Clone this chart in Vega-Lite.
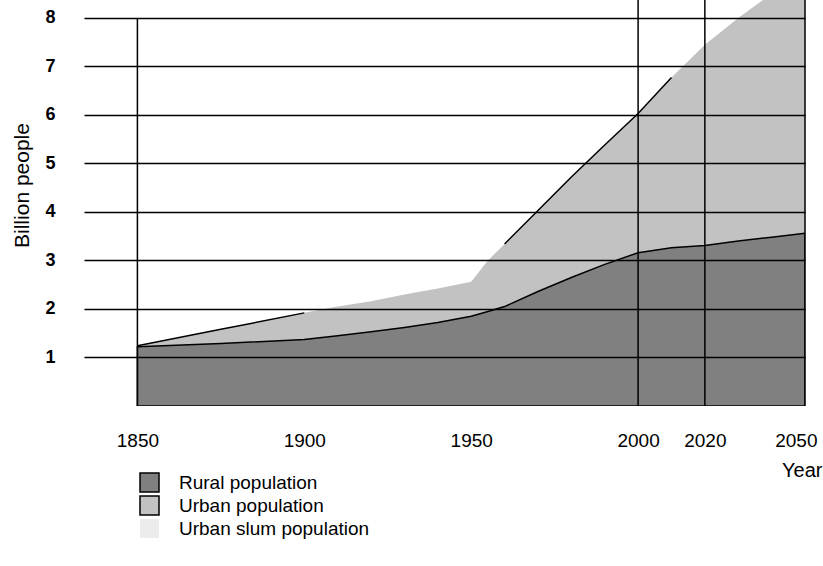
{
  "$schema": "https://vega.github.io/schema/vega-lite/v6.json",
  "autosize": {"type": "none"},
  "padding": {"left": 84, "top": 0, "right": 18, "bottom": 160},
  "width": 721,
  "height": 406,
  "background": "white",
  "config": {
    "view": {"stroke": null},
    "font": "Liberation Sans",
    "axis": {"labelColor": "black", "titleColor": "black", "titleFontWeight": "normal", "labelFont": "Liberation Sans", "titleFont": "Liberation Sans"}
  },
  "data": {
    "values": [
      {"year": 1850, "rural": 1.22, "total": 1.24, "edge": 1.24},
      {"year": 1875, "rural": 1.29, "total": 1.58, "edge": 1.58},
      {"year": 1900, "rural": 1.37, "total": 1.92, "edge": 1.92},
      {"year": 1910, "rural": 1.45, "total": 2.05, "edge": null},
      {"year": 1920, "rural": 1.53, "total": 2.16, "edge": null},
      {"year": 1930, "rural": 1.62, "total": 2.3, "edge": null},
      {"year": 1940, "rural": 1.72, "total": 2.42, "edge": null},
      {"year": 1950, "rural": 1.85, "total": 2.56, "edge": null},
      {"year": 1955, "rural": 1.95, "total": 3.0, "edge": null},
      {"year": 1960, "rural": 2.05, "total": 3.34, "edge": 3.34},
      {"year": 1970, "rural": 2.36, "total": 4.03, "edge": 4.03},
      {"year": 1980, "rural": 2.65, "total": 4.72, "edge": 4.72},
      {"year": 1990, "rural": 2.92, "total": 5.38, "edge": 5.38},
      {"year": 2000, "rural": 3.16, "total": 6.03, "edge": 6.03},
      {"year": 2010, "rural": 3.26, "total": 6.77, "edge": 6.77},
      {"year": 2020, "rural": 3.31, "total": 7.45, "edge": null},
      {"year": 2030, "rural": 3.4, "total": 8.0, "edge": null},
      {"year": 2040, "rural": 3.48, "total": 8.5, "edge": null},
      {"year": 2050, "rural": 3.56, "total": 9.0, "edge": null}
    ]
  },
  "layer": [
    {
      "mark": {"type": "area", "clip": true},
      "encoding": {
        "x": {
          "field": "year", "type": "quantitative",
          "scale": {"domain": [1834, 2050], "nice": false, "zero": false},
          "axis": {
            "values": [1850, 1900, 1950, 2000, 2020, 2050],
            "format": "d",
            "grid": false, "domain": false, "ticks": false,
            "labelFontSize": 19, "labelPadding": 25, "labelFlush": true, "labelFlushOffset": 12,
            "title": "Year", "titleFontSize": 20, "titleAlign": "right", "titleBaseline": "middle",
            "titleX": 738, "titleY": 64
          }
        },
        "y": {
          "field": "total", "type": "quantitative",
          "scale": {"domain": [0, 8.37], "nice": false},
          "axis": {
            "values": [1, 2, 3, 4, 5, 6, 7, 8],
            "grid": true, "gridColor": "black", "gridWidth": 1.5, "gridOpacity": 1,
            "domain": false, "ticks": false, "zindex": 1,
            "labelFontSize": 18, "labelFontWeight": "bold", "labelPadding": 29,
            "title": "Billion people", "titleFontSize": 21, "titleAngle": -90,
            "titleAlign": "center", "titleBaseline": "middle", "titleX": -62, "titleY": 185
          }
        },
        "y2": {"field": "rural"},
        "color": {
          "datum": "Urban population",
          "scale": {
            "domain": ["Rural population", "Urban population", "Urban slum population"],
            "range": ["#808080", "#c2c2c2", "#ececec"]
          },
          "legend": {
            "title": null, "orient": "none", "legendX": 55, "legendY": 472,
            "symbolType": "square", "symbolSize": 361, "symbolStrokeColor": "black", "symbolStrokeWidth": 1.5,
            "labelFont": "Liberation Sans", "labelFontSize": 19, "labelColor": "black", "labelOffset": 19, "labelLimit": 0,
            "rowPadding": -4,
            "encode": {"symbols": {"update": {"stroke": {"signal": "datum.value === 'Urban slum population' ? 'transparent' : 'black'"}, "strokeWidth": {"value": 1.5}}}}
          }
        }
      }
    },
    {
      "mark": {"type": "area", "stroke": "black", "strokeWidth": 1.5, "clip": true},
      "encoding": {
        "x": {"field": "year", "type": "quantitative"},
        "y": {"field": "rural", "type": "quantitative"},
        "color": {"datum": "Rural population"}
      }
    },
    {
      "mark": {"type": "line", "color": "black", "strokeWidth": 1.5, "invalid": "break-paths-show-domains", "clip": true},
      "encoding": {
        "x": {"field": "year", "type": "quantitative"},
        "y": {"field": "edge", "type": "quantitative"}
      }
    },
    {
      "data": {"values": [{"year": 2000}, {"year": 2020}, {"year": 2050}]},
      "mark": {"type": "rule", "color": "black", "strokeWidth": 1.5},
      "encoding": {
        "x": {"field": "year", "type": "quantitative"}
      }
    },
    {
      "data": {"values": [{"year": 1850}]},
      "mark": {"type": "rule", "color": "black", "strokeWidth": 1.5},
      "encoding": {
        "x": {"field": "year", "type": "quantitative"},
        "y": {"datum": 0},
        "y2": {"datum": 8}
      }
    }
  ]
}
